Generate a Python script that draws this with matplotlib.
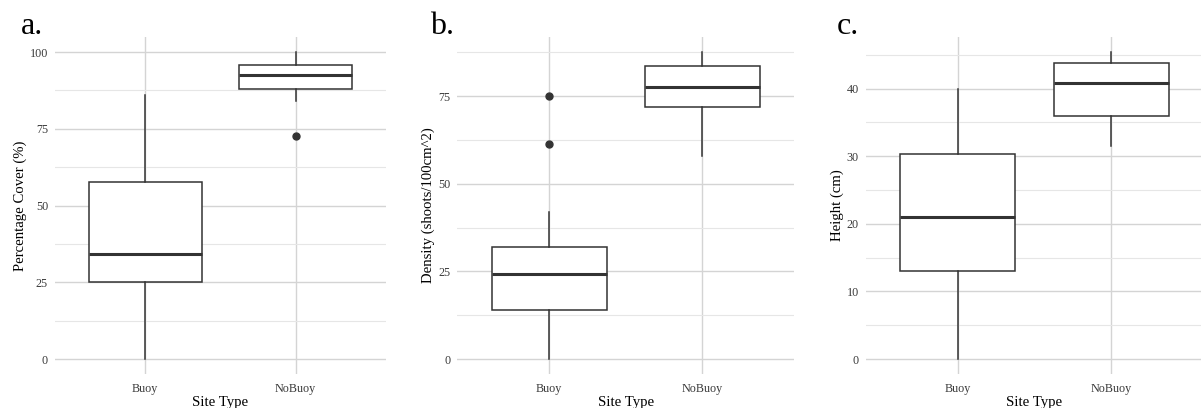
import numpy as np
import matplotlib
matplotlib.use("Agg")
import matplotlib.pyplot as plt

plt.rcParams['font.family'] = ['Liberation Serif', 'DejaVu Serif']

sites = ['Buoy', 'NoBuoy']

# a. percentage cover
cover_whislo = [0.0, 84.1]
cover_q1 = [25.0, 87.9]
cover_med = [34.2, 92.6]
cover_q3 = [57.7, 95.9]
cover_whishi = [85.9, 100.0]
cover_fliers = [[], [72.7]]

# b. density
dens_whislo = [0.0, 57.8]
dens_q1 = [14.1, 72.0]
dens_med = [24.2, 77.7]
dens_q3 = [32.1, 83.7]
dens_whishi = [41.9, 87.6]
dens_fliers = [[75.2, 61.4], []]

# c. height
ht_whislo = [0.0, 31.5]
ht_q1 = [13.0, 36.0]
ht_med = [21.0, 40.8]
ht_q3 = [30.25, 43.8]
ht_whishi = [40.0, 45.4]
ht_fliers = [[], []]

panels = [
    ('a.', 'Percentage Cover (%)', cover_whislo, cover_q1, cover_med, cover_q3, cover_whishi, cover_fliers,
     [0, 25, 50, 75, 100], [12.5, 37.5, 62.5, 87.5]),
    ('b.', 'Density (shoots/100cm^2)', dens_whislo, dens_q1, dens_med, dens_q3, dens_whishi, dens_fliers,
     [0, 25, 50, 75], [12.5, 37.5, 62.5, 87.5]),
    ('c.', 'Height (cm)', ht_whislo, ht_q1, ht_med, ht_q3, ht_whishi, ht_fliers,
     [0, 10, 20, 30, 40], [5, 15, 25, 35, 45]),
]

W, H = 1201, 408
fig = plt.figure(figsize=(W / 100, H / 100), dpi=100)

# panel pixel boxes (left, right), shared top/bottom; panel tag positions
xspans = [(55, 386), (457.3, 794), (865.7, 1203)]
tag_x = [20.5, 430, 837]
ptop, pbot = 36.7, 374.4

dark = '#333333'
grid_major = '#d4d4d4'
grid_minor = '#e6e6e6'

for (lab, ylab, wl, q1, med, q3, wh, fl, majors, minors), (x0, x1), tx in zip(panels, xspans, tag_x):
    ax = fig.add_axes([x0 / W, (H - pbot) / H, (x1 - x0) / W, (pbot - ptop) / H])
    stats = []
    for i in range(2):
        stats.append(dict(whislo=wl[i], q1=q1[i], med=med[i], q3=q3[i], whishi=wh[i],
                          fliers=fl[i], label=sites[i]))
    ax.bxp(stats, positions=[1, 2], widths=0.75, showcaps=False, patch_artist=True,
           boxprops=dict(facecolor='white', edgecolor=dark, linewidth=1.1),
           medianprops=dict(color=dark, linewidth=2.2),
           whiskerprops=dict(color=dark, linewidth=1.1),
           flierprops=dict(marker='o', markerfacecolor=dark, markeredgecolor=dark, markersize=5),
           zorder=3)
    lo = min(wl + [v for f in fl for v in f])
    hi = max(wh + [v for f in fl for v in f])
    pad = (hi - lo) * 0.05
    ax.set_ylim(lo - pad, hi + pad)
    ax.set_xlim(0.4, 2.6)
    ax.set_yticks(majors)
    ax.set_yticks(minors, minor=True)
    ax.set_xticks([1, 2])
    ax.set_xticklabels(sites)
    ax.grid(True, which='major', axis='both', color=grid_major, linewidth=1.0, zorder=0)
    ax.grid(True, which='minor', axis='y', color=grid_minor, linewidth=0.8, zorder=0)
    ax.set_axisbelow(True)
    for s in ax.spines.values():
        s.set_visible(False)
    ax.tick_params(axis='both', which='both', length=0, labelsize=8.7, colors='#3a3a3a', pad=5)
    ax.tick_params(axis='x', pad=6)
    ax.set_xlabel('Site Type', fontsize=10.6, labelpad=1)
    ax.set_ylabel(ylab, fontsize=10.6, labelpad=2)
    fig.text(tx / W, (H - 34.5) / H, lab, fontsize=23, ha='left', va='baseline')

fig.savefig('out.png', dpi=100)
